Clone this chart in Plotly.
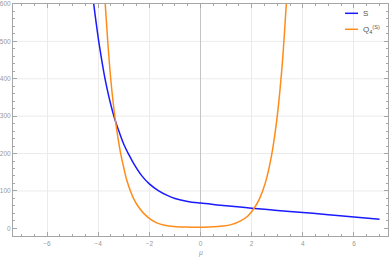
import plotly.graph_objects as go

# Series S (blue)
s_x = [-4.25, -4.18, -4.08, -3.98, -3.87, -3.76, -3.65, -3.55, -3.45, -3.34, -3.17, -3.0, -2.8, -2.61, -2.3, -2.0, -1.65, -1.3, -1.0, -0.5, 0.0, 0.5, 1.0, 2.0, 3.0, 4.0, 5.0, 6.0, 7.0]
s_y = [640, 603, 550, 501, 453, 410, 373, 343, 316, 290, 256, 225, 197, 173, 141, 119, 101, 88, 80, 72, 67.5, 63.8, 60.5, 54, 48, 42.5, 36.5, 30.5, 24]

# Series Q4^(S) (orange)
q_x = [-3.78, -3.71, -3.63, -3.52, -3.42, -3.33, -3.13, -3.0, -2.87, -2.61, -2.4, -2.22, -1.95, -1.69, -1.4, -1.04, -0.6, -0.3, 0.1, 0.5, 0.85, 1.2, 1.57, 1.85, 2.09, 2.3, 2.54, 2.78, 2.98, 3.1, 3.22, 3.34, 3.4]
q_y = [660, 585, 503, 408, 340, 290, 203, 162, 126, 79, 55, 40, 24, 14, 8.5, 5, 3.4, 3.0, 3.1, 4.0, 6, 10, 20, 33, 53, 78, 123, 196, 289, 365, 460, 585, 640]

x_ticks = [-6, -4, -2, 0, 2, 4, 6]
y_ticks = [0, 100, 200, 300, 400, 500, 600]
y_grid = [100, 200, 300, 400, 500]

BLUE = "#1a1aff"
ORANGE = "#ff8c1a"
FRAME = "#a6a6a6"
TICKFONT = dict(family="Liberation Sans, Arial, sans-serif", size=6.5, color="#999999")

fig = go.Figure()
fig.add_trace(go.Scatter(x=s_x, y=s_y, mode="lines", name="S",
                         line=dict(color=BLUE, width=1.5, shape="spline", smoothing=1.0)))
fig.add_trace(go.Scatter(x=q_x, y=q_y, mode="lines", name="Q4(S)",
                         line=dict(color=ORANGE, width=1.5, shape="spline", smoothing=1.0)))

for g in y_grid:
    fig.add_shape(type="line", xref="paper", yref="y", x0=0, x1=1, y0=g, y1=g,
                  line=dict(color="#ebebeb", width=1), layer="below")

fig.update_xaxes(range=[-7.33, 7.33], tickvals=x_ticks, ticks="inside", ticklen=4,
                 tickcolor=FRAME, tickwidth=1, showline=True, linecolor=FRAME, linewidth=1,
                 mirror="allticks", showgrid=True, gridcolor="#ebebeb", gridwidth=1,
                 zeroline=True, zerolinecolor="#c4c4c4", zerolinewidth=1,
                 tickfont=TICKFONT, ticklabelstandoff=1, automargin=False,
                 minor=dict(dtick=0.5, tick0=0, ticks="inside", ticklen=2, tickcolor=FRAME, showgrid=False))
fig.update_yaxes(range=[-20.5, 600], tickvals=y_ticks, ticks="inside", ticklen=4,
                 tickcolor=FRAME, tickwidth=1, showline=True, linecolor=FRAME, linewidth=1,
                 mirror="allticks", showgrid=False, zeroline=False,
                 tickfont=TICKFONT, ticklabelstandoff=0, automargin=False,
                 minor=dict(dtick=20, tick0=0, ticks="inside", ticklen=2, tickcolor=FRAME, showgrid=False))

# custom legend
leg = [("S", BLUE, 13.3), ("Q<sub>4</sub><sup>(S)</sup>", ORANGE, 29.3)]
for txt, col, ypx in leg:
    yp = (236 - ypx) / 232
    fig.add_shape(type="line", xref="paper", yref="paper",
                  x0=(345 - 13) / 375, x1=(358 - 13) / 375, y0=yp, y1=yp,
                  line=dict(color=col, width=1.5))
    fig.add_annotation(text=txt, xref="paper", yref="paper", x=(360.5 - 13) / 375, y=yp,
                       xanchor="left", yanchor="middle", showarrow=False,
                       font=dict(family="Liberation Sans, Arial, sans-serif", size=8, color="#555555"))

fig.add_annotation(text="<i>μ</i>", xref="x", yref="paper", x=0, y=-(253 - 236) / 232,
                   xanchor="center", yanchor="middle", showarrow=False,
                   font=dict(family="Liberation Sans, Arial, sans-serif", size=7, color="#999999"))

fig.update_layout(width=389, height=257, margin=dict(l=13, r=1, t=4, b=21),
                  paper_bgcolor="white", plot_bgcolor="white", showlegend=False)

fig.write_html("out.html", config={"displayModeBar": False},
               post_script="document.body.style.margin='0';document.body.style.overflow='hidden';")
